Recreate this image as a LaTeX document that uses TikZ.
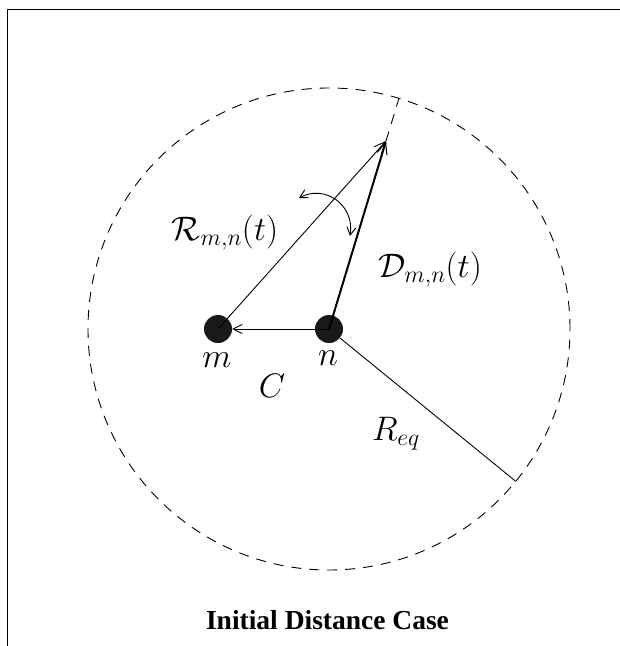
\RequirePackage{fix-cm}
\documentclass[tikz,border=0pt]{standalone}
\usepackage{fontspec}
\newfontfamily\titlefont{Liberation Serif}
\usetikzlibrary{arrows.meta,calc}
\begin{document}
\begin{tikzpicture}[x=1pt,y=-1pt,
  dot/.style={circle,fill=black!90,inner sep=0pt,minimum size=28pt},
  thin line/.style={line width=0.9pt},
  openarrow/.style={-{Straight Barb[length=9pt,width=9pt,line width=0.9pt]}},
  lab/.style={inner sep=0pt,font=\fontsize{34}{38}\selectfont}]
\useasboundingbox (0,0) rectangle (620,646);
% frame
\draw[line width=1.3pt] (7.5,646) -- (7.5,9.5) -- (620,9.5);
% nodes
\node[dot] (m) at (218,329) {};
\node[dot] (n) at (329,329) {};
\coordinate (tip) at (386,141);
\coordinate (req) at ($(n.center)+(186.7,152.3)$);
\coordinate (ext) at ($(n.center)!241pt!(tip)$);
% dashed circle
\draw[thin line,dash pattern=on 10pt off 8pt] (n.center) circle[radius=241pt];
\draw[thin line,dash pattern=on 10pt off 8pt] (tip) -- (ext);
% connectors
\draw[thin line,openarrow] (n.center) -- (m);
\draw[thin line,-{Straight Barb[length=11pt,width=10pt,line width=0.9pt]}] (m.center) -- (tip);
\draw[line width=2pt,-{Straight Barb[length=12pt,width=10pt,line width=1pt]}] (n.center) -- (tip);
\draw[thin line] (n) -- (req);
% curved double arrow
\coordinate (ca) at (299,198);
\coordinate (cb) at (350,236);
\draw[thin line,{Straight Barb[length=8pt,width=9pt,line width=0.9pt]}-{Straight Barb[length=8pt,width=9pt,line width=0.9pt]}] (ca) .. controls (325,184) and (355,205) .. (cb);
% labels
\node[lab] (lR) at (225,233) {$\mathcal{R}_{m,n}(t)$};
\node[lab] (lD) at (430,270) {$\mathcal{D}_{m,n}(t)$};
\node[lab] (lm) at (217,360) {$m$};
\node[lab] (ln) at (328,358) {$n$};
\node[lab] (lC) at (272,386) {$C$};
\node[lab] (lReq) at (396,434) {$R_{eq}$};
\node[inner sep=0pt,font=\titlefont\bfseries\fontsize{27.5}{30}\selectfont] (title) at (327.5,620) {Initial Distance Case};
\end{tikzpicture}
\end{document}
